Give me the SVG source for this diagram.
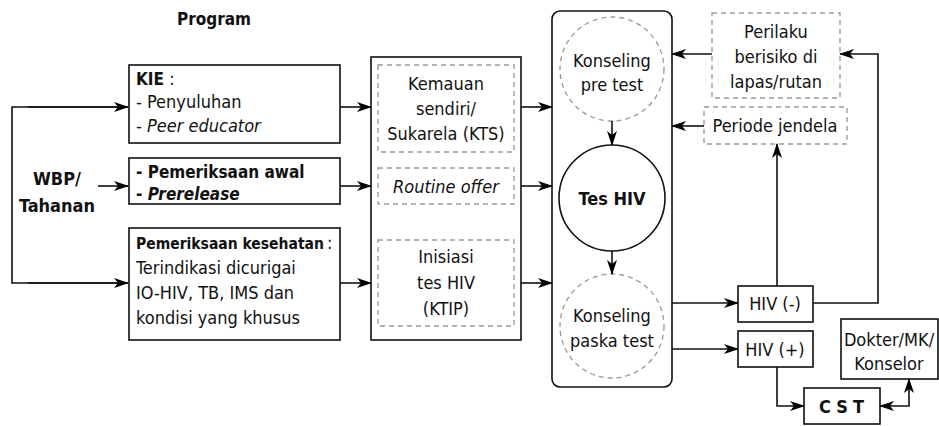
<svg xmlns="http://www.w3.org/2000/svg" width="939" height="426" viewBox="0 0 939 426">
<defs>
<marker id="ah" viewBox="0 0 15 10" markerWidth="15" markerHeight="10" refX="14" refY="5" orient="auto-start-reverse" markerUnits="userSpaceOnUse">
<path d="M0,0 L15,5 L0,10 L4,5 z" fill="#000"/>
</marker>
</defs>
<style>
text{font-family:"Liberation Sans Narrow","DejaVu Sans Condensed","Liberation Sans",sans-serif;font-size:18px;fill:#111}
.b{font-weight:bold;font-size:17px}
.i{font-style:italic}
.c{text-anchor:middle}
.box{fill:#fff;stroke:#111;stroke-width:1.6}
.dash{fill:#fff;stroke:#999;stroke-width:1.3;stroke-dasharray:5,4}
.ln{fill:none;stroke:#111;stroke-width:1.6}
.ar{fill:none;stroke:#111;stroke-width:1.6;marker-end:url(#ah)}
</style>
<rect width="939" height="426" fill="#fff"/>

<g id="title"><text x="214" y="25" class="b c">Program</text></g>

<g id="wbp">
<text x="57" y="185" class="b c" style="font-size:18px">WBP/</text>
<text x="57" y="212" class="b c" style="font-size:18px">Tahanan</text>
</g>

<g id="kie">
<rect x="129" y="65" width="211" height="78" class="box"/>
<text x="136" y="85"><tspan class="b">KIE</tspan> :</text>
<text x="136" y="108">- Penyuluhan</text>
<text x="136" y="132">- <tspan class="i">Peer educator</tspan></text>
</g>

<g id="pemeriksaan-awal">
<rect x="129" y="158" width="211" height="46" class="box"/>
<text x="136" y="178" class="b">- Pemeriksaan awal</text>
<text x="136" y="200" class="b">- <tspan class="i">Prerelease</tspan></text>
</g>

<g id="pemeriksaan-kesehatan">
<rect x="129" y="228" width="211" height="112" class="box"/>
<text x="136" y="249" class="b" style="font-size:15.5px">Pemeriksaan kesehatan</text>
<text x="327" y="249">:</text>
<text x="136" y="274">Terindikasi dicurigai</text>
<text x="136" y="299">IO-HIV, TB, IMS dan</text>
<text x="136" y="324">kondisi yang khusus</text>
</g>

<g id="tipe">
<rect x="371" y="57" width="150" height="283" class="box"/>
</g>
<g id="kts">
<rect x="378" y="65" width="136" height="87" class="dash"/>
<text x="446" y="90" class="c">Kemauan</text>
<text x="446" y="115" class="c">sendiri/</text>
<text x="446" y="140" class="c">Sukarela (KTS)</text>
</g>
<g id="routine">
<rect x="378" y="168" width="136" height="36" class="dash"/>
<text x="446" y="193" class="c i">Routine offer</text>
</g>
<g id="ktip">
<rect x="378" y="240" width="136" height="86" class="dash"/>
<text x="446" y="263" class="c">Inisiasi</text>
<text x="446" y="289" class="c">tes HIV</text>
<text x="446" y="315" class="c">(KTIP)</text>
</g>

<g id="layanan">
<rect x="552" y="11" width="120" height="376" rx="8" class="box"/>
</g>
<g id="pre-test">
<circle cx="612" cy="69" r="52" class="dash"/>
<text x="612" y="67" class="c">Konseling</text>
<text x="612" y="91" class="c">pre test</text>
</g>
<g id="tes-hiv">
<circle cx="612" cy="198" r="53" class="box"/>
<text x="612" y="205" class="c b" style="font-size:18px">Tes HIV</text>
</g>
<g id="post-test">
<circle cx="612" cy="326" r="52" class="dash"/>
<text x="612" y="322" class="c">Konseling</text>
<text x="612" y="347" class="c">paska test</text>
</g>

<g id="perilaku">
<rect x="712" y="13" width="128" height="85" class="dash"/>
<text x="776" y="38" class="c">Perilaku</text>
<text x="776" y="63" class="c">berisiko di</text>
<text x="776" y="88" class="c">lapas/rutan</text>
</g>
<g id="periode">
<rect x="704" y="107" width="143" height="37" class="dash"/>
<text x="775" y="132" class="c">Periode jendela</text>
</g>
<g id="hiv-neg">
<rect x="738" y="286" width="75" height="36" class="box"/>
<text x="775" y="310" class="c">HIV (-)</text>
</g>
<g id="hiv-pos">
<rect x="738" y="331" width="75" height="36" class="box"/>
<text x="775" y="356" class="c">HIV (+)</text>
</g>
<g id="dokter">
<rect x="841" y="319" width="97" height="60" class="box"/>
<text x="889" y="346" class="c">Dokter/MK/</text>
<text x="889" y="370" class="c">Konselor</text>
</g>
<g id="cst">
<rect x="804" y="388" width="76" height="36" class="box"/>
<text x="844" y="413" class="c b" style="font-size:18px" letter-spacing="5">CST</text>
</g>

<g id="connectors">
<path d="M128,107 H12 V283 H128" class="ln"/>
<path d="M28,107 H128" class="ar"/>
<path d="M28,283 H128" class="ar"/>
<path d="M98,186 H128" class="ar"/>
<path d="M340,107 H371" class="ar"/>
<path d="M340,186 H371" class="ar"/>
<path d="M340,283 H371" class="ar"/>
<path d="M521,107 H552" class="ar"/>
<path d="M521,186 H552" class="ar"/>
<path d="M521,283 H552" class="ar"/>
<path d="M612,121 V145" class="ar"/>
<path d="M612,251 V274" class="ar"/>
<path d="M712,54 H672" class="ar"/>
<path d="M704,126 H672" class="ar"/>
<path d="M672,303 H738" class="ar"/>
<path d="M672,349 H738" class="ar"/>
<path d="M777,286 V144" class="ar"/>
<path d="M813,303 H878 V54 H840" class="ar"/>
<path d="M777,367 V406 H804" class="ar"/>
<path d="M880,406 H909 V379" class="ar" marker-start="url(#ah)"/>
</g>
</svg>
